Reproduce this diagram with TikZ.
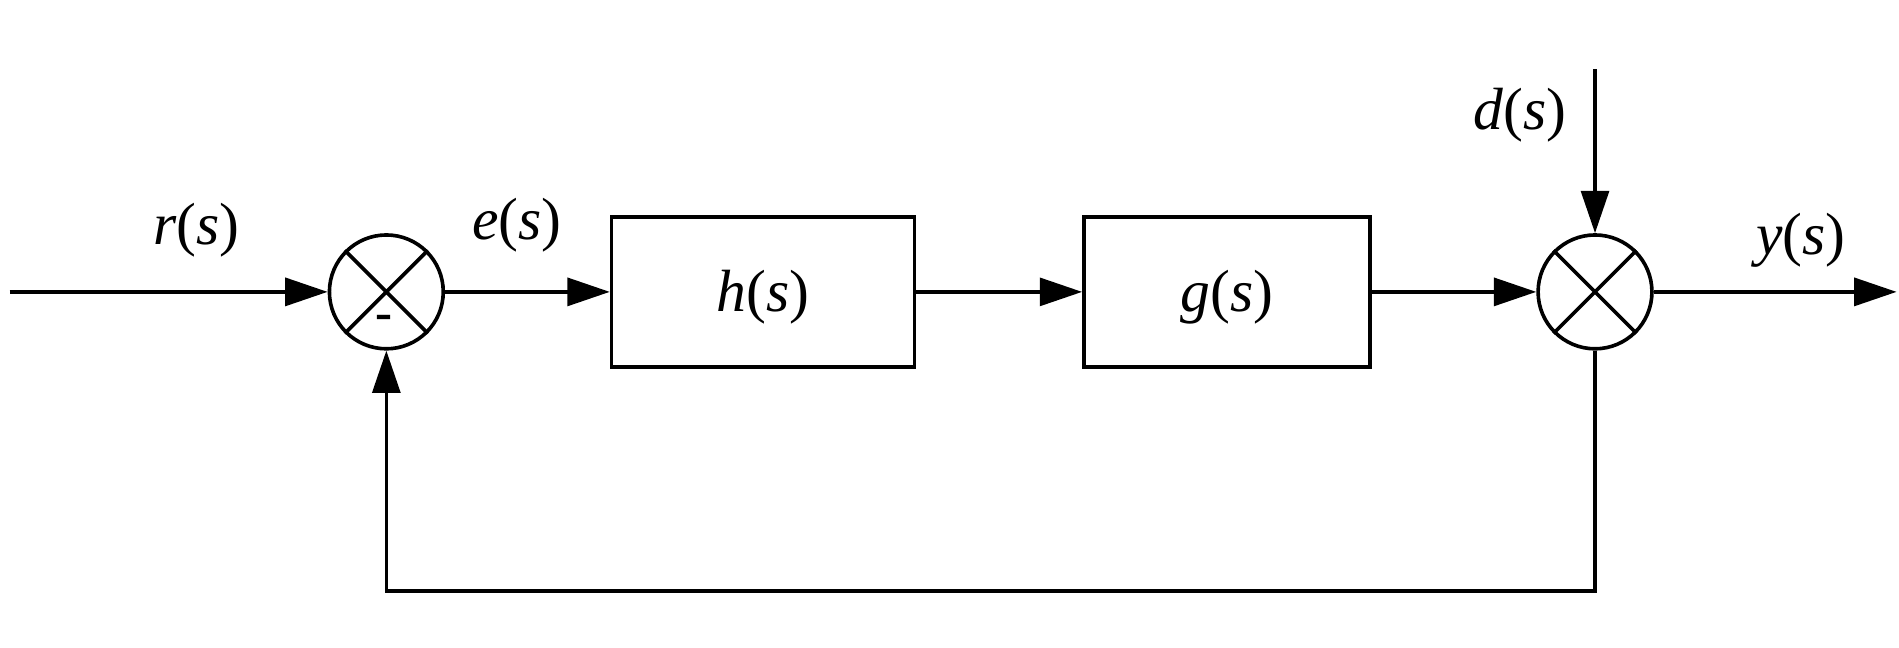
\documentclass[tikz,border=0pt]{standalone}
\usepackage{fontspec}
\setmainfont{Liberation Serif}
\usetikzlibrary{arrows.meta}
\begin{document}
\begin{tikzpicture}[x=0.02cm,y=-0.02cm,line width=1.7pt,
  arr/.style={-{Triangle[length=0.7cm,width=0.46cm]}},
  blk/.style={draw,minimum height=124*0.02cm,inner sep=0pt},
  sumc/.style={draw,circle,minimum size=94*0.02cm,inner sep=0pt},
  lbl/.style={font=\fontsize{28}{30}\selectfont}]
\useasboundingbox (0,0) rectangle (1568,535);
\node[sumc] (s1) at (319,241) {};
\node[sumc] (s2) at (1317,241) {};
\draw (s1.north west) -- (s1.south east) (s1.north east) -- (s1.south west);
\draw (s2.north west) -- (s2.south east) (s2.north east) -- (s2.south west);
\node[blk,minimum width=250*0.02cm] (h) at (630,241) {};
\node[blk,minimum width=236*0.02cm] (g) at (1013,241) {};
\node[lbl] (hl) at (630,245) {\textit{h}(\textit{s})};
\node[lbl] (gl) at (1013,245) {\textit{g}(\textit{s})};
\coordinate (in) at (8,241);
\coordinate (out) at (1566,241);
\coordinate (dtop) at (1317,57);
\coordinate (fb1) at (1317,488);
\coordinate (fb2) at (319,488);
\draw[arr] (in) -- (s1.west);
\draw[arr] (s1.east) -- (h.west);
\draw[arr] (h.east) -- (g.west);
\draw[arr] (g.east) -- (s2.west);
\draw[arr] (s2.east) -- (out);
\draw[arr] (dtop) -- (s2.north);
\draw[arr] (s2.south) -- (fb1) -- (fb2) -- (s1.south);
\node[lbl] (rl) at (162,190) {\textit{r}(\textit{s})};
\node[lbl] (el) at (427,186) {\textit{e}(\textit{s})};
\node[lbl] (dl) at (1255,95) {\textit{d}(\textit{s})};
\node[lbl] (yl) at (1487,198) {\textit{y}(\textit{s})};
\node[font=\bfseries\fontsize{24}{26}\selectfont] (minus) at (317,266) {-};
\end{tikzpicture}
\end{document}
